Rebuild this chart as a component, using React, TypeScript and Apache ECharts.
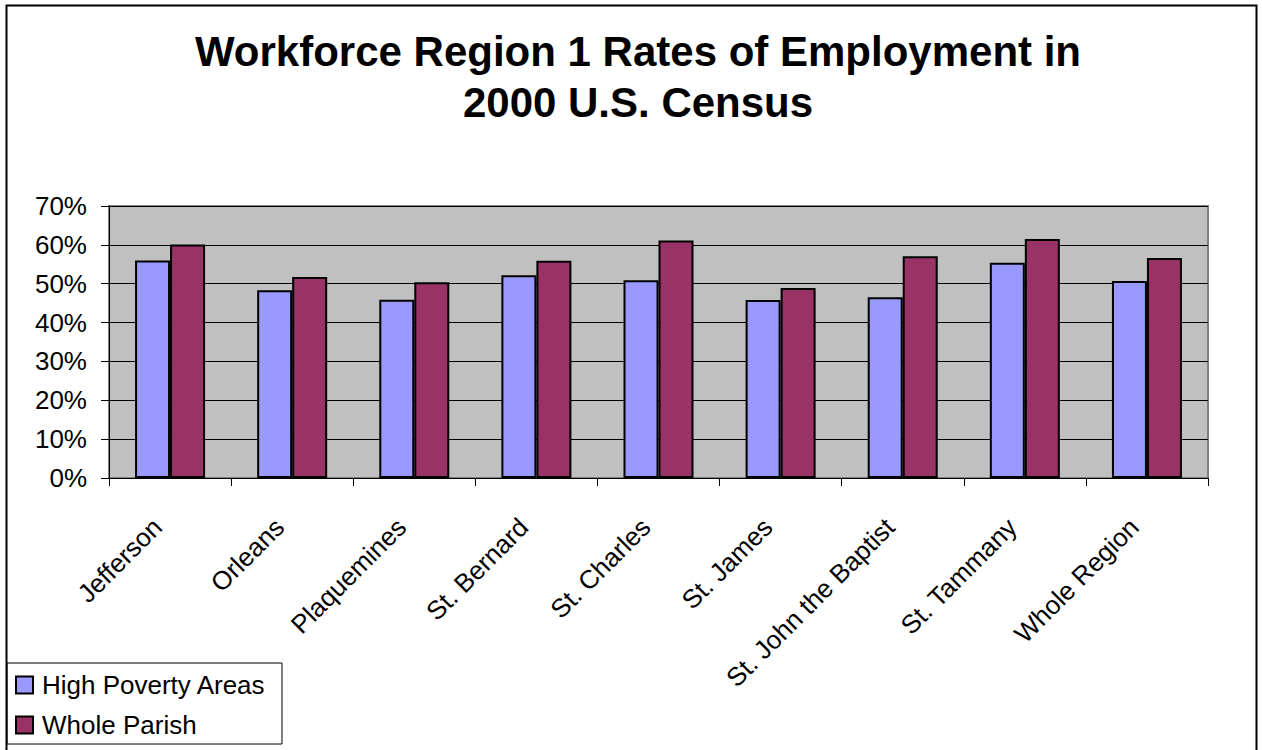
import React, { useEffect, useRef } from "react";
import * as echarts from "echarts";

const categories = [
  "Jefferson",
  "Orleans",
  "Plaquemines",
  "St. Bernard",
  "St. Charles",
  "St. James",
  "St. John the Baptist",
  "St. Tammany",
  "Whole Region",
];
const highPoverty = [56.0, 48.3, 45.9, 52.2, 50.9, 45.8, 46.5, 55.4, 50.7];
const wholeParish = [60.1, 51.7, 50.4, 55.9, 61.1, 48.9, 57.1, 61.5, 56.6];
const yTicks = { min: 0, max: 70, interval: 10 };
const titleText = "Workforce Region 1 Rates of Employment in\n2000 U.S. Census";

const FONT = "Arial, 'Liberation Sans', sans-serif";

export default function App() {
  const ref = useRef<HTMLDivElement>(null);
  useEffect(() => {
    document.body.style.margin = "0";
    const chart = echarts.init(ref.current!, null, { renderer: "svg" });
    chart.setOption({
      animation: false,
      backgroundColor: "#ffffff",
      graphic: [
        {
          type: "text",
          x: 638,
          y: 26,
          style: {
            text: titleText,
            fontFamily: FONT,
            fontSize: 42,
            fontWeight: "bold",
            fill: "#000",
            lineHeight: 51,
            align: "center",
            verticalAlign: "top",
          },
          silent: true,
        },
        {
          type: "rect",
          shape: { x: 6.5, y: 5.5, width: 1250, height: 800 },
          style: { fill: "none", stroke: "#000", lineWidth: 2 },
          silent: true,
          z: 100,
        },
      ],
      legend: {
        orient: "vertical",
        left: 7,
        top: 663,
        padding: [9, 16, 6, 8],
        itemWidth: 17,
        itemHeight: 17,
        itemGap: 14,
        borderColor: "#000",
        borderWidth: 1,
        backgroundColor: "#fff",
        icon: "rect",
        itemStyle: { borderColor: "#000", borderWidth: 2 },
        textStyle: {
          fontFamily: FONT,
          fontSize: 26,
          color: "#000",
          lineHeight: 26,
          padding: [0, 0, 0, 4],
        },
        data: ["High Poverty Areas", "Whole Parish"],
      },
      grid: {
        left: 109,
        right: 54,
        top: 206,
        bottom: 272,
        show: true,
        backgroundColor: "#C0C0C0",
        borderColor: "#808080",
        borderWidth: 2,
      },
      xAxis: {
        type: "category",
        data: categories,
        axisLine: { lineStyle: { color: "#000", width: 1 } },
        axisTick: { show: true, alignWithLabel: false, length: 8, lineStyle: { color: "#000" } },
        axisLabel: {
          rotate: 45,
          margin: 32,
          padding: [0, 18, 0, 0],
          interval: 0,
          fontFamily: FONT,
          fontSize: 26,
          color: "#000",
        },
      },
      yAxis: {
        type: "value",
        min: yTicks.min,
        max: yTicks.max,
        interval: yTicks.interval,
        axisLine: { show: true, lineStyle: { color: "#000", width: 1 } },
        axisTick: { show: true, length: 8, lineStyle: { color: "#000" } },
        splitLine: { lineStyle: { color: "#000", width: 1 } },
        axisLabel: {
          margin: 22,
          formatter: "{value}%",
          fontFamily: FONT,
          fontSize: 26,
          color: "#000",
        },
      },
      series: [
        {
          name: "High Poverty Areas",
          type: "bar",
          data: highPoverty,
          barWidth: 35,
          barGap: "0%",
          itemStyle: { color: "#9999FF", borderColor: "#000", borderWidth: 2 },
        },
        {
          name: "Whole Parish",
          type: "bar",
          data: wholeParish,
          barWidth: 35,
          barGap: "0%",
          itemStyle: { color: "#993366", borderColor: "#000", borderWidth: 2 },
        },
      ],
    });
    return () => chart.dispose();
  }, []);
  return <div ref={ref} style={{ width: 1262, height: 750 }} />;
}
